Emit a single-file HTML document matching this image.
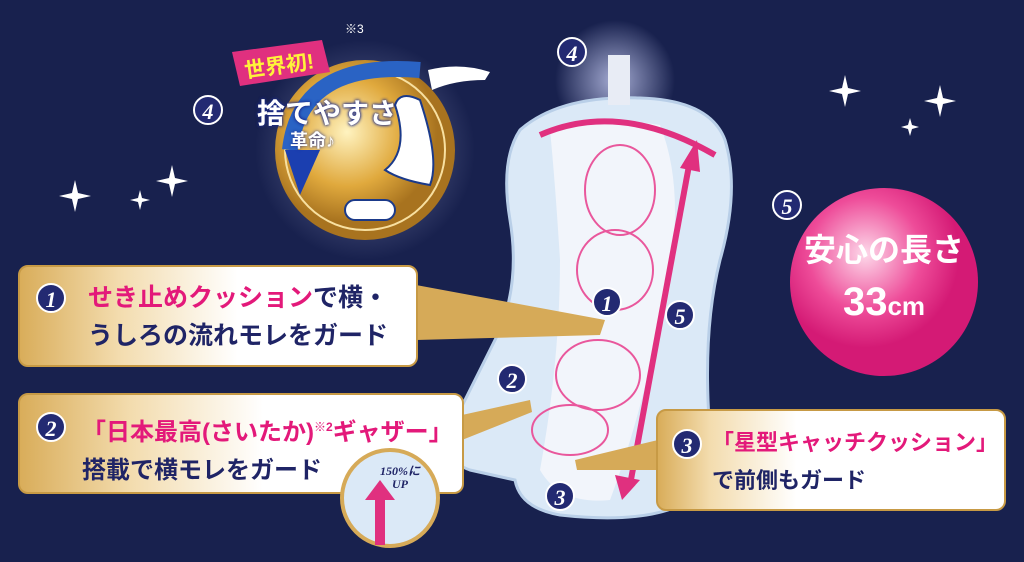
<!DOCTYPE html><html><head><meta charset="utf-8"><style>
html,body{margin:0;width:1024px;height:562px;overflow:hidden;background:#18214e;font-family:"Liberation Sans","Noto Sans CJK JP",sans-serif;position:relative}
.box{position:absolute;border-radius:10px;background:linear-gradient(90deg,#d9ad5a 0%,#f3dcae 25%,#fff 55%,#fff 100%);border:2px solid #c79a45;box-sizing:border-box}
.t{position:absolute;font-weight:bold;font-size:25px;color:#1f2466;white-space:nowrap;line-height:38px}
.p{color:#e3197a}
.n{position:absolute;width:30px;height:30px;border-radius:50%;background:#232a72;color:#fff;font:italic bold 22px "Liberation Serif",serif;text-align:center;line-height:30px;border:2px solid #fff;box-sizing:border-box}
</style></head><body>
<svg width="1024" height="562" style="position:absolute;left:0;top:0">
<defs>
<radialGradient id="g" cx=".4" cy=".4"><stop offset="0" stop-color="#fff3c0"/><stop offset=".6" stop-color="#e0a93d"/><stop offset="1" stop-color="#a8731f"/></radialGradient>
<radialGradient id="pk" cx=".4" cy=".35"><stop offset="0" stop-color="#fdd9ea"/><stop offset=".6" stop-color="#ee4c99"/><stop offset="1" stop-color="#d41a75"/></radialGradient>
<radialGradient id="glow"><stop offset="0" stop-color="#c9cff5" stop-opacity=".8"/><stop offset="1" stop-color="#c9cff5" stop-opacity="0"/></radialGradient>
</defs>
<circle cx="615" cy="80" r="60" fill="url(#glow)"/>
<circle cx="365" cy="150" r="110" fill="url(#glow)" opacity=".6"/>
<path d="M520 130 Q560 95 640 98 Q710 100 725 140 Q740 190 720 260 Q705 320 708 400 Q712 470 690 500 Q650 525 560 515 Q520 508 515 480 L470 470 Q440 460 455 420 Q480 370 500 330 Q520 280 510 220 Q500 160 520 130Z" fill="#dbe9f7" stroke="#b9cfe8" stroke-width="3"/>
<path d="M550 130 Q600 115 660 125 Q690 200 660 320 Q640 420 610 500 Q560 505 540 470 Q560 360 560 260 Q555 180 550 130Z" fill="#f2f5fb"/>
<rect x="608" y="55" width="22" height="50" fill="#e8ecf5"/>
<g fill="none" stroke="#e9579c" stroke-width="2">
<ellipse cx="620" cy="190" rx="35" ry="45"/><ellipse cx="615" cy="270" rx="38" ry="40"/><ellipse cx="598" cy="375" rx="42" ry="35"/><ellipse cx="570" cy="430" rx="38" ry="25"/>
</g>
<path d="M540 135 Q620 100 715 155" fill="none" stroke="#e0307f" stroke-width="6"/>
<path d="M630 485 L690 160" stroke="#e0307f" stroke-width="6"/><polygon points="697,140 680,168 700,172" fill="#e0307f"/>
<polygon points="622,500 615,475 640,480" fill="#e0307f"/>
<polygon points="416,285 605,320 600,335 416,340" fill="#d6aa58"/>
<polygon points="462,415 530,400 532,412 462,440" fill="#d6aa58"/>
<polygon points="658,440 575,460 577,470 658,470" fill="#d6aa58"/>
<circle cx="365" cy="150" r="90" fill="url(#g)"/>
<circle cx="365" cy="150" r="80" fill="none" stroke="#f8e0a0" stroke-width="2"/>
<path d="M290 150 Q300 60 420 70" fill="none" stroke="#2a63c4" stroke-width="16"/>
<polygon points="285,150 320,150 300,195" fill="#1b3fb0"/>
<path d="M395 105 Q400 90 420 100 Q440 160 430 185 Q400 180 385 170 Q410 150 395 105Z" fill="#fff" stroke="#1b3a8a" stroke-width="2"/>
<rect x="345" y="200" width="50" height="20" rx="10" fill="#fff" stroke="#1b3a8a" stroke-width="2"/>
<path d="M428 70 Q460 62 490 72 L485 80 Q455 80 432 90Z" fill="#fff"/>
<path d="M232 52 L322 40 L330 72 L240 86Z" fill="#e0307f"/>
<circle cx="884" cy="282" r="94" fill="url(#pk)"/>
<g fill="#fff"><path d="M75 180 l3 13 13 3 -13 3 -3 13 -3 -13 -13 -3 13 -3z"/><path d="M172 165 l3 13 13 3 -13 3 -3 13 -3 -13 -13 -3 13 -3z"/><path d="M140 190 l2 8 8 2 -8 2 -2 8 -2 -8 -8 -2 8 -2z"/><path d="M845 75 l3 13 13 3 -13 3 -3 13 -3 -13 -13 -3 13 -3z"/><path d="M940 85 l3 13 13 3 -13 3 -3 13 -3 -13 -13 -3 13 -3z"/><path d="M910 118 l2 7 7 2 -7 2 -2 7 -2 -7 -7 -2 7 -2z"/></g>
</svg>
<div style="position:absolute;left:244px;top:50px;color:#fff23a;font-weight:bold;font-size:21px;transform:rotate(-8deg)">世界初!</div>
<div style="position:absolute;left:345px;top:20px;color:#fff;font-size:12px">※3</div>
<div style="position:absolute;left:257px;top:92px;color:#fff;font-weight:bold;font-size:28px;text-shadow:0 0 3px #1b2a8a,0 0 3px #1b2a8a">捨てやすさ</div>
<div style="position:absolute;left:290px;top:127px;color:#fff;font-weight:bold;font-size:18px;text-shadow:0 0 3px #1b2a8a">革命♪</div>
<div style="position:absolute;left:794px;top:230px;width:180px;text-align:center;color:#fff;font-weight:bold;font-size:32px;line-height:40px">安心の長さ</div>
<div style="position:absolute;left:794px;top:278px;width:180px;text-align:center;color:#fff;font-weight:bold;font-size:40px;line-height:48px">33<span style="font-size:26px">cm</span></div>
<div class="box" style="left:18px;top:265px;width:400px;height:102px"></div>
<div class="box" style="left:18px;top:393px;width:446px;height:101px"></div>
<div class="box" style="left:656px;top:409px;width:350px;height:102px;background:linear-gradient(90deg,#d9ad5a 0%,#f3dcae 15%,#fff 40%)"></div>
<svg width="120" height="130" style="position:absolute;left:330px;top:440px">
<circle cx="60" cy="58" r="48" fill="#dbe9f7" stroke="#d6aa58" stroke-width="4"/>
<path d="M45 105 L45 60 L35 60 L50 40 L65 60 L55 60 L55 105Z" fill="#e0307f"/>
</svg>
<div style="position:absolute;left:380px;top:465px;color:#1f2466;font:italic bold 12px 'Liberation Serif';line-height:13px;text-align:center">150%に<br>UP</div>
<div class="n" style="left:36px;top:283px">1</div><div class="n" style="left:36px;top:412px">2</div><div class="n" style="left:672px;top:429px">3</div>
<div class="t" style="left:88px;top:279px"><span class="p">せき止めクッション</span>で横・<br>うしろの流れモレをガード</div>
<div class="t" style="left:82px;top:408px;font-size:24px"><span class="p">「日本最高(さいたか)<sup style="font-size:12px">※2</sup>ギャザー」</span><br>搭載で横モレをガード</div>
<div class="t" style="left:712px;top:424px;font-size:22px"><span class="p">「星型キャッチクッション」</span><br>で前側もガード</div>
<div class="n" style="left:193px;top:95px">4</div><div class="n" style="left:557px;top:37px">4</div><div class="n" style="left:772px;top:190px">5</div>
<div class="n" style="left:592px;top:287px">1</div><div class="n" style="left:665px;top:300px">5</div><div class="n" style="left:497px;top:364px">2</div><div class="n" style="left:545px;top:481px">3</div>
</body></html>
